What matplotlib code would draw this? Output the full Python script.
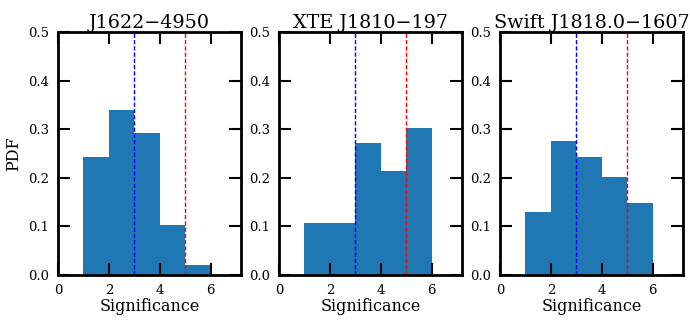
import matplotlib
matplotlib.use("Agg")
import matplotlib.pyplot as plt
import numpy as np

titles = ["J1622\u22124950", "XTE J1810\u2212197", "Swift J1818.0\u22121607"]
bin_edges = [1, 2, 3, 4, 5, 6]
pdf_j1622 = [0.243, 0.340, 0.293, 0.102, 0.020]
pdf_xte = [0.106, 0.106, 0.272, 0.213, 0.303]
pdf_swift = [0.129, 0.276, 0.243, 0.202, 0.148]
series = [pdf_j1622, pdf_xte, pdf_swift]
thresh_blue = 3
thresh_red = 5

plt.rcParams['font.family'] = ['DejaVu Serif']
fig = plt.figure(figsize=(6.9, 3.21), dpi=100)
lefts = [58/690, 279/690, 500/690]
w = 183/690
b = 1 - 275/321
h = (275-32)/321
for i, (t, vals) in enumerate(zip(titles, series)):
    ax = fig.add_axes([lefts[i], b, w, h])
    ax.hist(bin_edges[:-1], bins=bin_edges, weights=vals, color='#1f77b4')
    ax.axvline(thresh_blue, color='blue', ls='--', lw=1, dashes=(3, 1.5))
    ax.axvline(thresh_red, color='red', ls='--', lw=1, dashes=(3, 1.5))
    ax.set_xlim(0, 7.2)
    ax.set_ylim(0, 0.5)
    ax.set_xticks([0, 2, 4, 6])
    ax.set_yticks(np.arange(0, 0.51, 0.1))
    ax.set_yticklabels([f"{v:.1f}" for v in np.arange(0, 0.51, 0.1)])
    ax.tick_params(direction='in', length=8.5, width=1.5, top=True, right=True,
                   labelsize=9.5, pad=6.5)
    for s in ax.spines.values():
        s.set_linewidth(2)
    ax.set_title(t, fontsize=13.8, pad=3)
    ax.set_xlabel("Significance", fontsize=11.5, labelpad=1)
    if i == 0:
        ax.set_ylabel("PDF", fontsize=11.5, labelpad=4)

fig.savefig("out.png", dpi=100)
